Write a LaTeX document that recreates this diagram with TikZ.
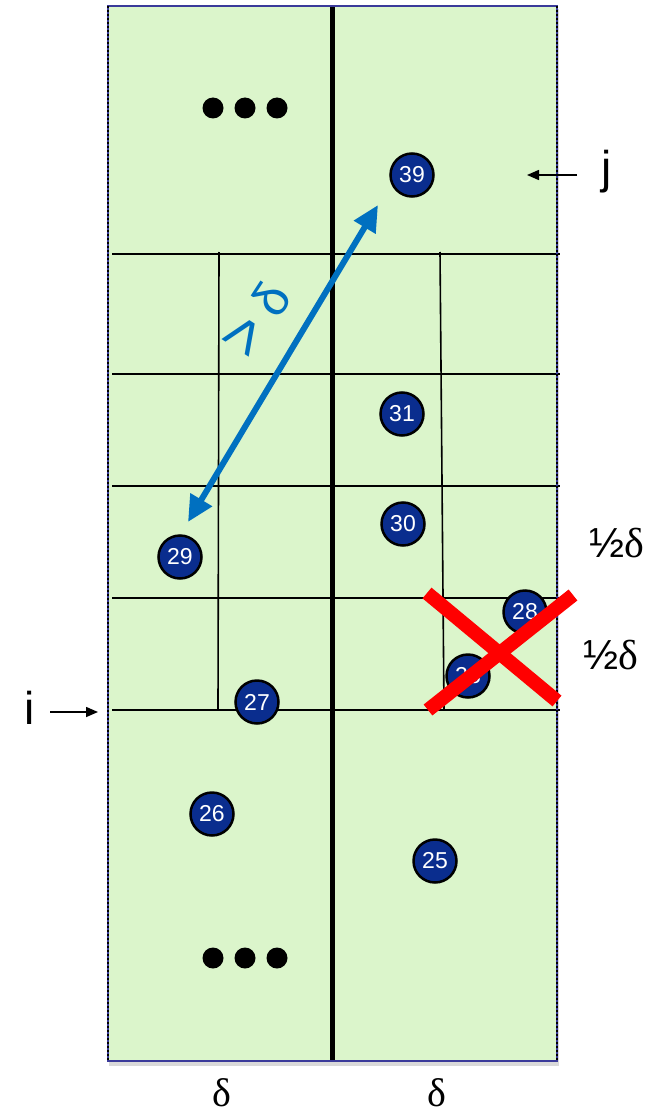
\documentclass[tikz,border=0pt]{standalone}
\usepackage{fontspec}
\setmainfont{Liberation Sans}
\newfontfamily\serifgreek{Liberation Serif}
\usetikzlibrary{arrows.meta}
\definecolor{cellgreen}{HTML}{DBF5CB}
\definecolor{ptblue}{HTML}{0A2D8E}
\definecolor{arrblue}{HTML}{0070C0}
\definecolor{edgeblue}{HTML}{3A3A9A}
\begin{document}
\begin{tikzpicture}[x=1pt,y=-1pt,
  num/.style={circle,draw=black,line width=2.5pt,fill=ptblue,text=white,minimum size=43pt,inner sep=0pt,font=\fontsize{23}{23}\selectfont},
  blob/.style={circle,fill=black,minimum size=21pt,inner sep=0pt},
  gridline/.style={line width=1.6pt},
  lbl/.style={font=\fontsize{46}{46}\selectfont},
  half/.style={font=\fontsize{42}{42}\selectfont},
  tip/.style={-{Triangle[length=12pt,width=10pt]},line width=1.5pt}]
\useasboundingbox (0,0) rectangle (655,1118);
\fill[black!15] (109,9) rectangle (559,1066);
\fill[cellgreen] (108,6) rectangle (557,1061);
\foreach \y in {254,374,486,598,710} \draw[gridline] (112,\y) -- (560,\y);
\draw[gridline] (219,252) -- (218,710);
\draw[gridline] (440,252) -- (444,710);
\draw[line width=5pt] (332,6) -- (332,1061);
\draw[edgeblue,line width=1.5pt] (108,6) rectangle (557,1061);
\draw[line width=2pt,dash pattern=on 2pt off 2pt] (108,6) -- (108,1061);
\draw[line width=2pt,dash pattern=on 2pt off 2pt] (557,6) -- (557,1061);
\foreach \x in {213,245,277} {
  \node[blob] (up\x) at (\x,108) {};
  \node[blob] (dn\x) at (\x,958) {};
}
\node[num] (p39) at (412,175) {39};
\node[num] (p31) at (402,414) {31};
\node[num] (p30) at (403,524) {30};
\node[num] (p29) at (180,557) {29};
\node[num] (p28a) at (525,612) {28};
\node[num] (p28b) at (468,676) {28};
\node[num] (p27) at (257,702) {27};
\node[num] (p26) at (212,814) {26};
\node[num] (p25) at (435,861) {25};
\coordinate (lo) at (188,522);
\coordinate (hi) at (378,205);
\draw[arrblue,line width=6pt,{Triangle[length=26pt,width=24pt]}-{Triangle[length=26pt,width=24pt]}] (lo) -- (hi);
\node[arrblue,rotate=57,inner sep=0pt] (gt) at (257,320) {{\fontsize{64}{64}\selectfont >}\hspace{12pt}{\fontsize{50}{50}\selectfont δ}};
\draw[red,line width=14pt] (427,593) -- (557,701);
\draw[red,line width=14pt] (573,595) -- (428,710);
\node[half] (h1) at (617,543) {½{\serifgreek δ}};
\node[half] (h2) at (611,655) {½{\serifgreek δ}};
\node[lbl] (ilab) at (30,708) {i};
\coordinate (ifrom) at (50,712);
\coordinate (ito) at (98,712);
\draw[tip] (ifrom) -- (ito);
\node[lbl] (jlab) at (607,172) {j};
\coordinate (jfrom) at (577,175);
\coordinate (jto) at (527,175);
\draw[tip] (jfrom) -- (jto);
\node[font=\serifgreek\fontsize{40}{40}\selectfont] (d1) at (222,1093) {δ};
\node[font=\serifgreek\fontsize{40}{40}\selectfont] (d2) at (437,1093) {δ};
\end{tikzpicture}
\end{document}
